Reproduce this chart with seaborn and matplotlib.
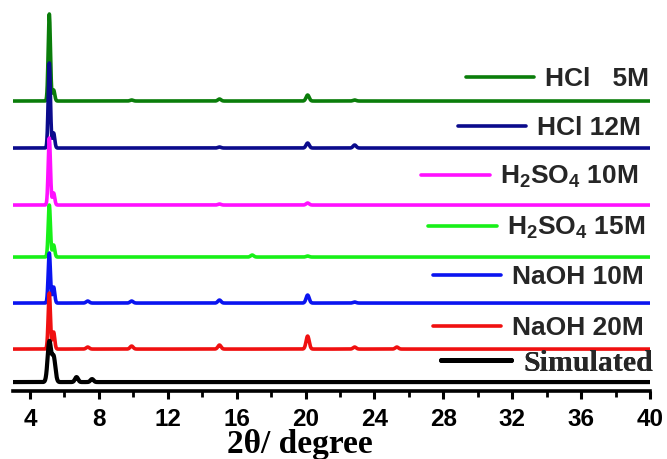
import numpy as np
import pandas as pd
import matplotlib
matplotlib.use("Agg")
import matplotlib.pyplot as plt
import seaborn as sns

# ---------------- data ----------------
series_names = ["HCl   5M", "HCl 12M", "H$_2$SO$_4$ 10M", "H$_2$SO$_4$ 15M",
                "NaOH 10M", "NaOH 20M", "Simulated"]
# common reflection positions (2theta, degree)
peak_pos = [5.12, 5.37, 6.7, 7.35, 7.6, 9.9, 15.0, 16.9, 20.12, 22.85, 25.3]
# peak heights per series (arbitrary units)
h_hcl5 = [87, 11, 0, 0, 0, 1, 2, 0, 6, 1, 0]
h_hcl12 = [85, 15, 0, 0, 0, 0, 1, 0, 5, 3, 0]
h_h2so4_10 = [67, 12, 0, 0, 0, 0, 1, 0, 2, 0, 0]
h_h2so4_15 = [52, 12, 0, 0, 0, 0, 0, 2, 1, 0, 0]
h_naoh10 = [50, 16, 0, 2, 0, 2, 3, 0, 8, 1, 0]
h_naoh20 = [56, 17, 0, 2, 0, 3, 4, 0, 13, 2, 2]
h_sim = [40, 25, 5, 0, 3, 0, 0, 0, 0, 0, 0]
heights = [h_hcl5, h_hcl12, h_h2so4_10, h_h2so4_15, h_naoh10, h_naoh20, h_sim]
x_ticks = [4, 8, 12, 16, 20, 24, 28, 32, 36, 40]

# ---------------- styling / layout ----------------
colors = ["#0a7d0a", "#0b0b8c", "#ff10ff", "#18f018", "#0a14f0", "#f01010", "#000000"]
offsets = [290, 243, 186, 134, 88, 42, 9]
label_y = [312, 263, 214, 163, 114, 63, 28]
label_x = [39.93, 39.46, 39.35, 39.76, 39.64, 39.64, 40.16]
widths = [0.065, 0.065, 0.065, 0.065, 0.065, 0.065, 0.1]

two_theta = np.linspace(3, 40, 3701)
rows = []
for name, hs, off, w in zip(series_names, heights, offsets, widths):
    y = np.full_like(two_theta, float(off))
    for p, h in zip(peak_pos, hs):
        if h:
            y += h * np.exp(-0.5 * ((two_theta - p) / (w if p < 6 else 0.09)) ** 2)
    rows.append(pd.DataFrame({"2theta": two_theta, "I": y, "sample": name}))
df = pd.concat(rows, ignore_index=True)

sns.set_theme(style="white")
plt.rcParams["mathtext.fontset"] = "custom"
plt.rcParams["mathtext.rm"] = "Liberation Sans:bold"
plt.rcParams["mathtext.it"] = "Liberation Sans:bold"
plt.rcParams["mathtext.bf"] = "Liberation Sans:bold"
plt.rcParams["mathtext.default"] = "rm"

fig = plt.figure(figsize=(6.67, 4.59), dpi=100)
ax = fig.add_axes([0.0192, 0.148, 0.9553, 0.852])

sns.lineplot(data=df, x="2theta", y="I", hue="sample", hue_order=series_names,
             palette=colors, linewidth=2.6, legend=False, ax=ax, sort=False)
lines = ax.get_lines()
lines[-1].set_linewidth(3.0)

ax.set_xlim(3, 40)
ax.set_ylim(0, 391)
ax.set_yticks([])
ax.set_ylabel("")
for s in ["left", "right", "top"]:
    ax.spines[s].set_visible(False)
ax.spines["bottom"].set_linewidth(2.6)
ax.spines["bottom"].set_color("black")
ax.set_xticks(x_ticks)
ax.set_xticks(np.arange(6, 40, 4), minor=True)
ax.tick_params(axis="x", which="major", direction="out", length=5.5, width=2.2,
               color="black", pad=6.5, bottom=True)
ax.tick_params(axis="x", which="minor", direction="out", length=4, width=2.0,
               color="black", bottom=True)
for t in ax.get_xticklabels():
    t.set_fontfamily("Liberation Sans")
    t.set_fontweight("bold")
    t.set_fontsize(17.5)
    t.set_color("black")
ax.set_xlabel("2θ/ degree", fontfamily="Liberation Serif", fontweight="bold",
              fontsize=24, color="black")
ax.xaxis.set_label_coords(0.451, -0.098)

# per-series labels
for i, (name, ln) in enumerate(zip(series_names, lines)):
    serif = name == "Simulated"
    leg = ax.legend(handles=[ln], labels=[name], loc="center right",
                    bbox_to_anchor=(label_x[i], label_y[i]), bbox_transform=ax.transData,
                    frameon=False, borderpad=0, borderaxespad=0,
                    handlelength=2.6 if not serif else 2.35, handletextpad=0.4,
                    prop={"family": "Liberation Serif" if serif else "Liberation Sans",
                          "weight": "bold", "size": 21.5 if serif else 19})
    for lh in leg.get_lines():
        lh.set_linewidth(3.6 if serif else 2.6)
    ax.add_artist(leg)

fig.savefig("out.png", dpi=100)
